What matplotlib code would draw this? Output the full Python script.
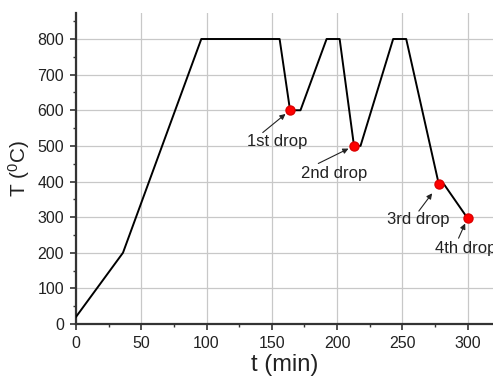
import matplotlib
matplotlib.use("Agg")
import matplotlib.pyplot as plt

plt.rcParams['font.family'] = ['Liberation Sans', 'DejaVu Sans']
plt.rcParams['mathtext.fontset'] = 'custom'
plt.rcParams['mathtext.rm'] = 'Liberation Sans'

# Temperature profile
t_vals = [0, 36, 96, 156, 164, 172, 192, 202, 213, 218, 243, 253, 278, 282, 300]
T_vals = [20, 200, 800, 800, 600, 600, 800, 800, 500, 500, 800, 800, 392, 392, 297]

# Drop points
drop_t = [164, 213, 278, 300]
drop_T = [600, 500, 392, 297]
drop_labels = ["1st drop", "2nd drop", "3rd drop", "4th drop"]

x_ticks = [0, 50, 100, 150, 200, 250, 300]
y_ticks = [0, 100, 200, 300, 400, 500, 600, 700, 800]

fig = plt.figure(figsize=(4.93, 3.85), dpi=100)
ax = fig.add_axes([76/493, 61/385, 417/493, 311/385])

ax.set_xlim(0, 319.5)
ax.set_ylim(0, 873)

ax.plot(t_vals, T_vals, color='black', lw=1.4, zorder=3)
ax.plot(drop_t, drop_T, 'o', color='red', ms=6.5, mec='#dd0000', zorder=4)

# layout offsets in pixels (text centre, arrow tail, arrow head) relative to marker
text_off = [(-13, -31.5), (-20, -27.6), (-20.5, -34.8), (-1.8, -30)]
tail_off = [(-27.3, -22.3), (-35.7, -17.6), (-20, -26.7), (-9, -20)]
head_off = [(-4, -4.3), (-2.3, -5.7), (-5, -10), (-1.3, -5.7)]

for t, T, lab, to, ta, he in zip(drop_t, drop_T, drop_labels, text_off, tail_off, head_off):
    ax.annotate(lab, xy=(t, T), xytext=to, textcoords='offset pixels',
                ha='center', va='center', fontsize=12, color='#222222',
                annotation_clip=False, zorder=5)
    ax.annotate('', xy=(t, T), xytext=ta, textcoords='offset pixels',
                arrowprops=dict(arrowstyle='-|>', color='#222222', lw=0.8,
                                mutation_scale=8, shrinkA=0,
                                shrinkB=(he[0]**2 + he[1]**2) ** 0.5 * 72 / 100),
                zorder=5)

ax.set_xticks(x_ticks)
ax.set_yticks(y_ticks)
ax.set_xticks([25, 75, 125, 175, 225, 275], minor=True)
ax.set_yticks([50, 150, 250, 350, 450, 550, 650, 750, 850], minor=True)

ax.grid(True, which='major', color='#c8c8c8', lw=0.9)
ax.set_axisbelow(True)

for s in ['top', 'right']:
    ax.spines[s].set_visible(False)
for s in ['left', 'bottom']:
    ax.spines[s].set_linewidth(1.6)
    ax.spines[s].set_color('#333333')

ax.tick_params(which='major', direction='out', length=4.5, width=1.2,
               labelsize=11.5, pad=4, colors='#333333', labelcolor='#222222')
ax.tick_params(which='minor', direction='out', length=2.5, width=1.0, colors='#333333')

ax.set_xlabel('t (min)', fontsize=17, color='#222222', labelpad=2)
ax.set_ylabel(r'T ($\mathregular{^{0}}$C)', fontsize=15, color='#222222', labelpad=4)

fig.savefig('out.png', dpi=100)
